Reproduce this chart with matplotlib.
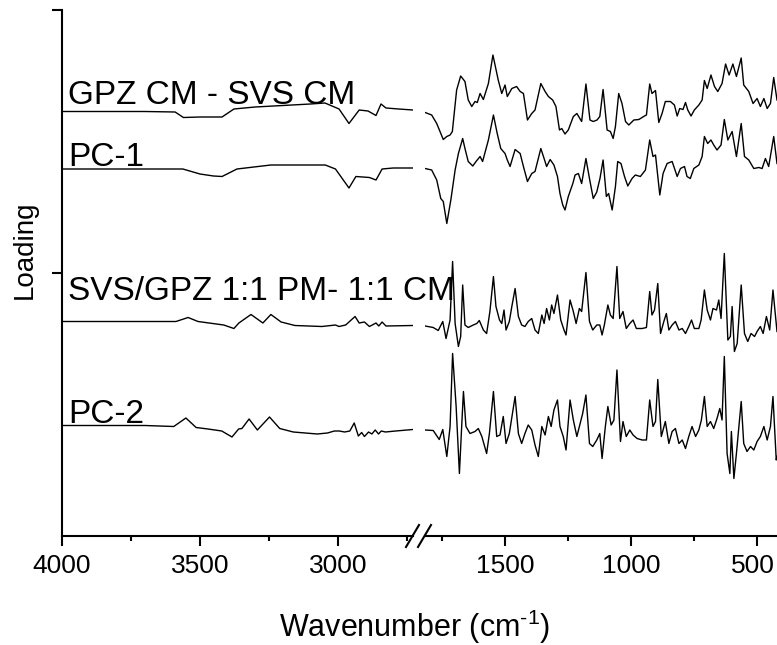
import numpy as np
import matplotlib
matplotlib.use('Agg')
from matplotlib import pyplot as plt
from matplotlib.lines import Line2D
from matplotlib.transforms import ScaledTranslation

# fonts
plt.rcParams['font.family'] = ['Liberation Sans', 'DejaVu Sans']
plt.rcParams['mathtext.fontset'] = 'custom'
plt.rcParams['mathtext.rm'] = 'Liberation Sans'
plt.rcParams['mathtext.it'] = 'Liberation Sans:italic'

# ---------------- data (loading, a.u., relative to each trace baseline) ----------------
# GPZ CM - SVS CM
gpz_l_wn = [4000, 3700, 3590, 3560, 3500, 3420, 3377, 3300, 3200, 3100, 3047, 2996, 2960,
            2923, 2891, 2862, 2844, 2826, 2780, 2728]
gpz_l = [0, 0, -0.5, -6, -5.5, -5.5, 2.5, 4.5, 6, 7.5, 8.5, 2.5, -12, 1.5, 0.5, -4, 7.5,
         3.5, 2.5, 1.5]
gpz_r_wn = [1817, 1791, 1771, 1745, 1731, 1718, 1709, 1692, 1676, 1659, 1646, 1632, 1619,
            1610, 1599, 1586, 1566, 1548, 1527, 1513, 1500, 1491, 1473, 1454, 1440, 1427,
            1411, 1394, 1381, 1358, 1341, 1328, 1311, 1298, 1284, 1275, 1262, 1249, 1229,
            1215, 1196, 1179, 1163, 1150, 1135, 1124, 1111, 1095, 1082, 1071, 1062, 1049,
            1036, 1022, 1009, 989, 969, 950, 939, 926, 917, 903, 890, 877, 864, 844, 828,
            817, 807, 794, 784, 775, 762, 749, 731, 718, 709, 698, 683, 669, 656, 639, 625,
            611, 596, 582, 563, 553, 533, 516, 500, 487, 473, 460, 447, 434, 421]
gpz_r = [-1, -3.5, -12, -28, -25, -23.5, -20, 21.5, 35.5, 30, 11.5, 5, 10, 9, 18, 12, 28,
         56.5, 31.5, 18, 26.5, 15, 23, 25, 20, 18, -8.5, -2, 1.5, 28, 20, 15, 11.5, 5,
         -18.5, -17, -22.5, -18.5, -5, -2, -10, 27.5, -8.5, -10, -8.5, -5, 22, -18.5, -20,
         -27, -15, 18, 8, -10, -13.5, -8.5, -8, -5, -3.5, 27.5, 18, 21, -11, -2, 10, 10,
         6.5, -4.5, 3, 2, 9, 1.5, -4.5, 1.5, 6.5, 11.5, 31, 23, 36.5, 25, 20, 28, 47.5,
         36.5, 47.5, 35, 53.5, 26.5, 20, 8, 13, 5, 13, 3, 8, 34, 11.5]

# PC-1
pc1_l_wn = [4000, 3700, 3562, 3500, 3451, 3420, 3366, 3243, 3046, 3009, 2960, 2935, 2886,
            2862, 2840, 2800, 2728]
pc1_l = [0, 0, 0, -5, -7, -7.5, 0, 4, 4, 0, -19, -7.5, -8.5, -11, 0, 1, 1]
pc1_r_wn = [1817, 1791, 1771, 1755, 1745, 1731, 1715, 1698, 1685, 1668, 1659, 1646, 1628,
            1615, 1599, 1589, 1566, 1546, 1531, 1517, 1500, 1491, 1480, 1460, 1440, 1427,
            1411, 1394, 1381, 1358, 1345, 1335, 1321, 1306, 1292, 1282, 1271, 1262, 1249,
            1231, 1222, 1209, 1196, 1179, 1165, 1150, 1136, 1123, 1111, 1098, 1089, 1075,
            1062, 1053, 1040, 1026, 1013, 996, 983, 963, 943, 926, 913, 903, 886, 873, 857,
            837, 817, 804, 788, 778, 765, 751, 731, 718, 709, 696, 683, 672, 659, 643, 630,
            616, 599, 582, 563, 550, 533, 513, 493, 480, 467, 454, 434, 421]
pc1_r = [0.5, -1, -11, -29.5, -32.5, -54.5, -31, -1, 15.5, 30.5, 20.5, 7.5, 3, 7.5, 12.5,
         7.5, 29, 54, 35.5, 20.5, 15.5, 9, 2.5, 19.5, 15.5, 2.5, -12.5, -4.5, -2.5, 20.5,
         10.5, 2.5, 9.5, 4, -7.5, -24.5, -36, -41, -27.5, -14.5, -6, -4.5, -14.5, 10.5,
         -9.5, -29.5, -23, -9, 9, -27.5, -24.5, -41, -17.5, 7.5, 5.5, -7.5, -17, -9.5, -6,
         -7.5, -1, 29, 12.5, 14, -26, -4.5, 5.5, 7.5, -7.5, 0.5, 2.5, -7.5, -9.5, 0.5, 4,
         12.5, 32.5, 25.5, 29, 24, 19, 24, 49.5, 29, 37.5, 12.5, 45.5, 12.5, 9, 0.5, 1.5,
         0.5, 10.5, 2.5, 32.5, 5.5]

# SVS/GPZ 1:1 PM - 1:1 CM
svs_l_wn = [4000, 3700, 3587, 3543, 3507, 3414, 3377, 3359, 3315, 3272, 3243, 3206, 3156,
            3058, 3009, 2996, 2972, 2938, 2923, 2904, 2886, 2862, 2852, 2840, 2826, 2728]
svs_l = [0, 0, 0, 4, 0, -3.5, -7, -1.5, 7, -1.5, 7, -0.5, -4, -5, -3.5, -5, -3.5, 5, -1.5,
         -0.5, -5, -1.5, -4.5, -0.5, -4.5, -4]
svs_r_wn = [1817, 1785, 1765, 1747, 1734, 1718, 1708, 1698, 1685, 1676, 1668, 1659, 1646,
            1626, 1612, 1602, 1586, 1573, 1560, 1546, 1536, 1522, 1513, 1504, 1496, 1483,
            1473, 1460, 1447, 1434, 1421, 1408, 1394, 1381, 1368, 1354, 1345, 1335, 1324,
            1315, 1306, 1292, 1279, 1266, 1258, 1242, 1229, 1218, 1205, 1196, 1179, 1165,
            1152, 1136, 1124, 1115, 1106, 1092, 1082, 1071, 1056, 1045, 1032, 1019, 1005,
            992, 979, 956, 939, 926, 917, 907, 894, 883, 870, 860, 850, 837, 824, 810, 797,
            784, 771, 760, 749, 731, 722, 709, 698, 685, 675, 661, 652, 643, 630, 616, 606,
            599, 590, 579, 563, 550, 537, 524, 510, 500, 487, 476, 463, 450, 437, 421]
svs_r = [-4.5, -6, -9, 0, -17, 1.5, 60, -2, -25, -15, 36.5, -3.5, -6, -3.5, -2, 1, -8.5,
         -12, 10, 45, 15, 1.5, -2, 11.5, -8.5, 0, 15, 33, 5, -3.5, -5, 0, 3, -8.5, -12, 6.5,
         -2, 13, 1.5, 16.5, 8, 26.5, 1.5, -8.5, -13.5, 21.5, 10, -2, 13, 10, 49, 0, -8.5,
         -3.5, -3.5, -13.5, -3.5, 16.5, 6.5, 3, 55, 3, 10, -7, -2, 1.5, -7, -7, -6, 30, 6.5,
         11.5, 38, -12, 0, 8, -8.5, -3.5, 0, -8.5, -7, -12, -5, 1.5, -7, -7, 1.5, 31.5,
         11.5, 1.5, 13, 11.5, 21.5, 3, 68, -18.5, -15, 15, -30, -22, 36.5, -12, -20, -12,
         -15, -10, -5, -12, 5, -8.5, 31.5, -10]

# PC-2
pc2_l_wn = [4000, 3700, 3595, 3551, 3514, 3471, 3421, 3384, 3360, 3348, 3322, 3292, 3248,
            3211, 3162, 3075, 3038, 3013, 2995, 2976, 2957, 2941, 2926, 2914, 2904, 2889,
            2877, 2865, 2853, 2843, 2828, 2791, 2728]
pc2_l = [0, 0, -1, 7.5, -2, -3.5, -5.5, -11.5, -3.5, -3, 6.5, -4.5, 8.5, -3, -6.5, -8.5,
         -7.5, -5.5, -5.5, -6.5, -5.5, 2.5, -10.5, -7, -11, -6.5, -8.5, -4.5, -8.5, -5.5,
         -6.5, -5.5, -4]
pc2_r_wn = [1817, 1785, 1761, 1747, 1731, 1718, 1708, 1694, 1681, 1672, 1665, 1655, 1639,
            1619, 1606, 1592, 1573, 1562, 1546, 1533, 1520, 1507, 1496, 1483, 1460, 1447,
            1434, 1421, 1408, 1394, 1381, 1368, 1354, 1341, 1328, 1317, 1306, 1292, 1282,
            1269, 1258, 1242, 1229, 1215, 1205, 1192, 1179, 1165, 1152, 1136, 1124, 1115,
            1102, 1092, 1079, 1068, 1056, 1042, 1032, 1019, 1005, 992, 976, 956, 939, 926,
            913, 903, 894, 880, 864, 850, 837, 824, 810, 797, 784, 771, 758, 744, 731, 721,
            709, 698, 685, 672, 659, 648, 639, 630, 619, 608, 602, 592, 582, 563, 553, 540,
            526, 513, 500, 487, 473, 460, 447, 437, 424, 421]
pc2_r = [-4.5, -5, -14, -4, -31, -1, 72, 19, -48, -1, 34, -1, -8, -6, -3, -11, -28, -8, 34,
         -11, -9.5, 9, -18, -8, 29, -8, -18, -8, 0.5, -4.5, -19.5, -31, -1, -9.5, 9, -1,
         15.5, 25.5, -1, -11, -24.5, 25.5, 5.5, -11, -1, 12, 30.5, -18, -21, -14.5, -8,
         -33, -1, 19, 0.5, 5.5, 55.5, -16, 4, -11, -4.5, -9.5, -13, -14.5, -14.5, 25.5,
         -1, 4, 46, -11, 4, -18, -6, -3, -18, -14.5, -23, -11, -1, -11, -4.5, 5.5, 29, -1,
         4, -3, 7, 17, 5.5, 69, -28, -48, -6, -53, -28, 24, -18, -26, -21, -24.5, -16, -11,
         -1, -14.5, -1, 29, -34.5, -31]

names = ['GPZ CM - SVS CM', 'PC-1', 'SVS/GPZ 1:1 PM- 1:1 CM', 'PC-2']
offsets = [424.5, 367, 214.5, 110.5]
label_dy = [7.5, 3, 22, 2.5]

left_sets = [(gpz_l_wn, gpz_l), (pc1_l_wn, pc1_l), (svs_l_wn, svs_l), (pc2_l_wn, pc2_l)]
right_sets = [(gpz_r_wn, gpz_r), (pc1_r_wn, pc1_r), (svs_r_wn, svs_r), (pc2_r_wn, pc2_r)]

# ---------------- figure ----------------
W, H = 777, 645
fig = plt.figure(figsize=(W / 100, H / 100), dpi=100)
bot = (H - 536) / H
hgt = 526 / H
axR = fig.add_axes([425 / W, bot, 352 / W, hgt])
axL = fig.add_axes([62 / W, bot, 351 / W, hgt])
axR.patch.set_alpha(0)
axL.patch.set_alpha(0)

for (xl, yl), (xr, yr), off, name, dy in zip(left_sets, right_sets, offsets, names, label_dy):
    axL.plot(xl, np.array(yl) + off, color='black', lw=1.0)
    axR.plot(xr, np.array(yr) + off, color='black', lw=1.0)
    axL.text(3978, off + dy, name, fontsize=24, ha='left', va='baseline', clip_on=False,
             zorder=5)

axL.set_xlim(4000, 2728)
axR.set_xlim(1817.5, 421)
for ax in (axL, axR):
    ax.set_ylim(0, 526)
    ax.spines['top'].set_visible(False)
    ax.spines['right'].set_visible(False)
    ax.spines['bottom'].set_linewidth(1.5)
    ax.tick_params(axis='x', which='major', direction='out', length=7, width=1.5,
                   labelsize=19, pad=6)
    ax.tick_params(axis='x', which='minor', direction='out', length=3.5, width=1.5)
axR.spines['left'].set_visible(False)
axR.set_yticks([])
axL.spines['left'].set_linewidth(1.5)
axL.set_yticks([263, 526])
axL.set_yticklabels([])
axL.tick_params(axis='y', direction='out', length=7, width=1.5)

axL.set_xticks([4000, 3500, 3000])
axL.set_xticks([3750, 3250, 2750], minor=True)
axR.set_xticks([1500, 1000, 500])
axR.set_xticks([1750, 1250, 750], minor=True)

# keep the last tick label ("500") inside the picture
last = axR.xaxis.get_major_ticks()[-1].label1
last.set_transform(last.get_transform() + ScaledTranslation(-0.04, 0, fig.dpi_scale_trans))

# axis break marks
for xc in (413, 425):
    fig.add_artist(Line2D([(xc - 7) / W, (xc + 6) / W], [1 - 547 / H, 1 - 525 / H],
                          color='black', lw=1.5))

fig.text(25 / W, 1 - 250 / H, 'Loading', rotation=90, fontsize=20, ha='center', va='center')
fig.text(415 / W, 1 - 637 / H, r'Wavenumber (cm$^{\text{-}1}$)', fontsize=22,
         ha='center', va='baseline')

plt.savefig('out.png', dpi=100)
